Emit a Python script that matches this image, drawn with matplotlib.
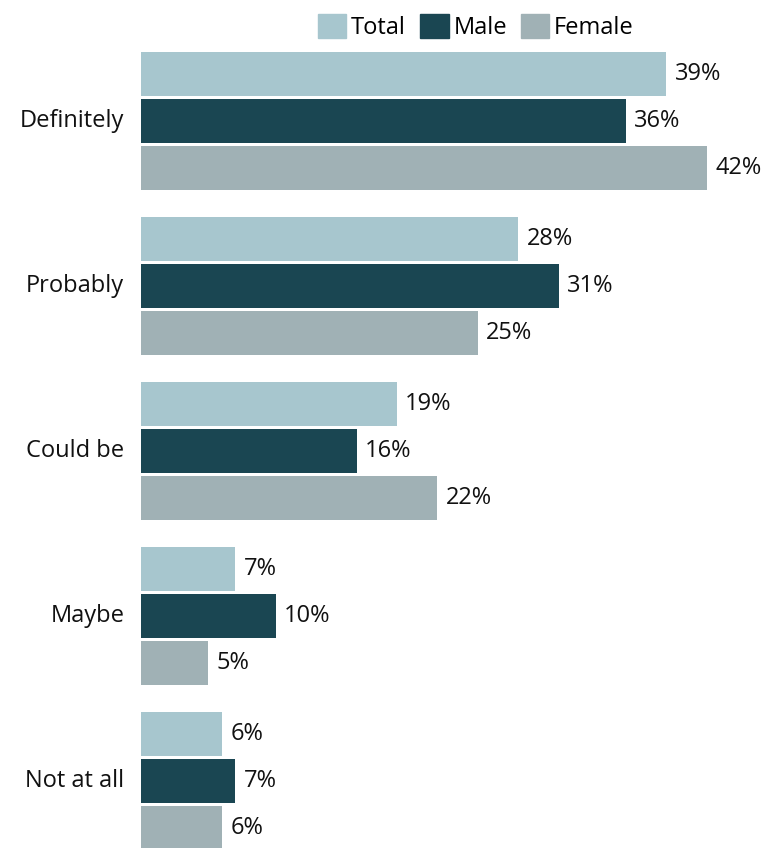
import numpy as np
import matplotlib.pyplot as plt
from matplotlib.patches import Patch

plt.rcParams['font.family'] = ['Open Sans', 'DejaVu Sans']

categories = ['Definitely', 'Probably', 'Could be', 'Maybe', 'Not at all']
series = ['Total', 'Male', 'Female']
total = [39, 28, 19, 7, 6]
male = [36, 31, 16, 10, 7]
female = [42, 25, 22, 5, 6]
colors = ['#a7c6ce', '#1a4652', '#a0b1b5']

W, H = 765, 848
fig = plt.figure(figsize=(W / 100, H / 100), dpi=100)
ax = fig.add_axes([0, 0, 1, 1])

px = 13.47          # pixels per percent
x0 = 141            # left edge of bars in pixels
group = 165         # pixels between group centres
first = 121         # first group centre from top

pos = np.arange(len(categories))
h = 44 / group
step = 47 / group

for k, (name, vals) in enumerate(zip(series, [total, male, female])):
    y = pos + (k - 1) * step
    ax.barh(y, vals, height=h, color=colors[k], edgecolor='none')
    for yy, v in zip(y, vals):
        ax.annotate(f'{v}%', (v, yy), xytext=(6, 0), textcoords='offset points',
                    va='center', ha='left', fontsize=17, color='#111111')

for i, c in enumerate(categories):
    ax.annotate(c, (0, i), xytext=(-12, 0), textcoords='offset points',
                va='center', ha='right', fontsize=17, color='#111111')

ax.set_xlim(-x0 / px, (W - x0) / px)
ax.set_ylim((H - first) / group, -first / group)
ax.axis('off')

handles = [Patch(color=c, label=s) for s, c in zip(series, colors)]
fig.legend(handles=handles, loc='center', bbox_to_anchor=(476 / W, 1 - 27 / H),
           ncol=3, frameon=False, fontsize=17, handlelength=1.2, handleheight=1.2,
           handletextpad=0.2, columnspacing=0.6, borderaxespad=0)

fig.savefig('out.png', dpi=100)
